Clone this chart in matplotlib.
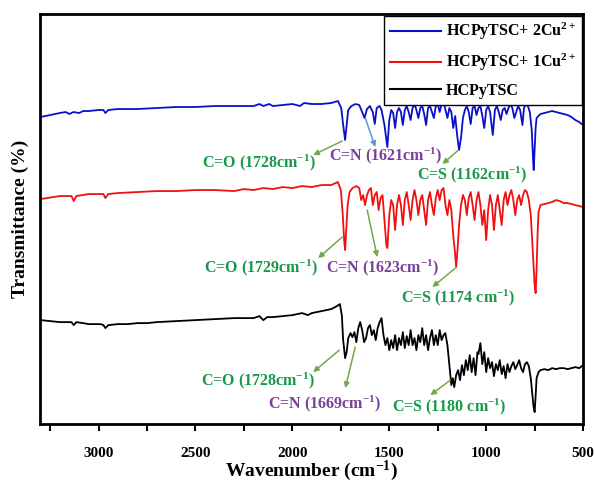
import matplotlib.pyplot as plt
from matplotlib.ticker import MultipleLocator

plt.rcParams['font.family'] = ['Liberation Serif', 'DejaVu Serif']
plt.rcParams['font.weight'] = 'bold'
plt.rcParams['mathtext.fontset'] = 'custom'
plt.rcParams['mathtext.rm'] = 'Liberation Serif:bold'
plt.rcParams['mathtext.bf'] = 'Liberation Serif:bold'
plt.rcParams['mathtext.default'] = 'bf'

# wavenumber (cm-1) and transmittance (arbitrary offset units)
wn_2cu = [3300, 3250, 3200, 3170, 3150, 3130, 3100, 3080, 3050, 3000, 2975, 2965, 2950, 2900, 2850,
          2800, 2700, 2600, 2500, 2400, 2300, 2200, 2170, 2150, 2120, 2100, 2050, 2000, 1960, 1940,
          1900, 1850, 1800, 1765, 1748, 1738, 1728, 1720, 1712, 1695, 1675, 1655, 1640, 1628, 1615,
          1600, 1585, 1575, 1565, 1550, 1540, 1525, 1510, 1500, 1490, 1480, 1470, 1460, 1450, 1440,
          1430, 1420, 1410, 1400, 1390, 1380, 1370, 1360, 1350, 1340, 1330, 1320, 1310, 1300, 1290,
          1280, 1270, 1260, 1250, 1240, 1230, 1220, 1210, 1200, 1190, 1180, 1170, 1160, 1150, 1140,
          1130, 1120, 1110, 1100, 1090, 1080, 1070, 1060, 1050, 1040, 1030, 1020, 1010, 1000, 990,
          980, 966, 955, 945, 935, 925, 915, 905, 895, 885, 875, 865, 855, 845, 835,
          825, 813, 805, 795, 785, 775, 765, 758, 755, 750, 745, 740, 720, 700, 680,
          660, 640, 620, 600, 580, 560, 540, 520, 500]
t_2cu = [307, 309, 311, 312, 310, 312, 311, 313, 313, 314, 314, 311, 314, 315, 315,
         315, 316, 317, 317, 318, 318, 318, 320, 318, 320, 318, 319, 320, 318, 321,
         320, 320, 321, 323, 316, 299, 284, 299, 314, 318, 320, 319, 312, 306, 315,
         318, 312, 300, 316, 318, 314, 299, 277, 304, 314, 311, 296, 312, 316, 312,
         299, 314, 318, 312, 304, 316, 320, 314, 306, 316, 318, 310, 299, 316, 318,
         312, 306, 318, 320, 312, 320, 322, 314, 306, 316, 312, 296, 308, 289, 274,
         286, 306, 314, 318, 312, 300, 316, 318, 309, 316, 318, 308, 296, 314, 318,
         312, 289, 314, 318, 312, 304, 314, 316, 310, 316, 320, 316, 306, 312, 318,
         314, 299, 316, 320, 318, 312, 294, 264, 254, 274, 296, 306, 310, 311, 312,
         313, 312, 311, 310, 309, 307, 304, 302, 299]

wn_1cu = [3300, 3200, 3140, 3128, 3115, 3050, 2975, 2965, 2950, 2900, 2800, 2700, 2600, 2500, 2400,
          2300, 2250, 2200, 2150, 2100, 2050, 2000, 1950, 1900, 1850, 1800, 1765, 1750, 1740, 1733,
          1728, 1722, 1715, 1705, 1690, 1670, 1655, 1645, 1635, 1625, 1615, 1605, 1595, 1585, 1575,
          1565, 1555, 1545, 1535, 1525, 1515, 1510, 1500, 1490, 1480, 1470, 1460, 1450, 1440, 1430,
          1420, 1410, 1400, 1390, 1380, 1370, 1360, 1350, 1340, 1330, 1320, 1310, 1300, 1290, 1280,
          1270, 1260, 1250, 1240, 1230, 1220, 1210, 1200, 1190, 1180, 1170, 1160, 1155, 1148, 1140,
          1130, 1120, 1110, 1100, 1090, 1080, 1070, 1060, 1050, 1040, 1030, 1020, 1010, 1000, 990,
          980, 970, 960, 950, 940, 930, 920, 910, 900, 890, 880, 870, 860, 850, 840,
          830, 820, 810, 800, 790, 780, 770, 760, 750, 745, 740, 735, 730, 720, 700,
          680, 660, 640, 620, 600, 580, 560, 540, 520, 500]
t_1cu = [225, 228, 228, 223, 228, 230, 230, 226, 230, 231, 232, 233, 233, 234, 234,
         233, 235, 234, 236, 235, 237, 236, 238, 237, 239, 239, 242, 234, 209, 184,
         174, 194, 219, 232, 236, 238, 236, 224, 229, 219, 229, 234, 236, 219, 229,
         232, 214, 226, 229, 204, 179, 176, 209, 224, 219, 194, 219, 229, 219, 199,
         224, 232, 219, 204, 224, 234, 224, 209, 224, 229, 214, 199, 224, 232, 219,
         209, 226, 234, 224, 234, 236, 219, 209, 224, 214, 189, 169, 157, 174, 199,
         219, 229, 224, 209, 226, 232, 219, 204, 224, 232, 219, 199, 214, 184, 214,
         229, 219, 194, 219, 229, 214, 199, 224, 232, 219, 229, 234, 224, 209, 224,
         229, 219, 229, 234, 232, 224, 209, 174, 139, 131, 154, 189, 212, 219, 220,
         221, 222, 224, 223, 221, 221, 220, 219, 218, 217]

wn_free = [3300, 3250, 3200, 3140, 3128, 3115, 3080, 3050, 2990, 2975, 2965, 2950, 2900, 2850, 2800,
           2750, 2700, 2600, 2500, 2400, 2300, 2200, 2170, 2150, 2130, 2100, 2050, 2000, 1950, 1920,
           1900, 1850, 1800, 1770, 1755, 1745, 1738, 1728, 1720, 1712, 1700, 1690, 1680, 1670, 1660,
           1650, 1640, 1630, 1620, 1610, 1600, 1590, 1580, 1570, 1560, 1550, 1540, 1530, 1520, 1510,
           1500, 1490, 1480, 1470, 1460, 1450, 1440, 1430, 1420, 1410, 1400, 1390, 1380, 1370, 1360,
           1350, 1340, 1330, 1320, 1310, 1300, 1290, 1280, 1270, 1260, 1250, 1240, 1230, 1220, 1211,
           1200, 1190, 1180, 1172, 1165, 1155, 1145, 1135, 1125, 1115, 1105, 1095, 1085, 1075, 1065,
           1055, 1045, 1040, 1030, 1020, 1010, 1000, 990, 980, 970, 960, 950, 940, 930, 920,
           910, 900, 890, 880, 870, 860, 850, 840, 830, 820, 810, 800, 790, 780, 770,
           762, 756, 750, 745, 740, 730, 720, 700, 680, 660, 640, 620, 600, 580, 560,
           540, 520, 500]
t_free = [104, 103, 102, 102, 99, 102, 101, 100, 100, 99, 96, 99, 100, 100, 101,
          101, 102, 103, 104, 105, 106, 106, 108, 104, 107, 107, 108, 109, 111, 109,
          111, 113, 115, 118, 120, 109, 84, 66, 72, 86, 91, 87, 92, 82, 96,
          102, 94, 82, 86, 96, 99, 89, 94, 84, 96, 102, 106, 89, 79, 86,
          74, 84, 76, 89, 74, 86, 79, 92, 76, 88, 79, 94, 79, 86, 74,
          89, 82, 96, 79, 89, 74, 86, 94, 79, 89, 79, 94, 84, 89, 91,
          79, 59, 39, 46, 37, 49, 54, 44, 59, 49, 64, 54, 69, 52, 66,
          49, 72, 70, 81, 60, 72, 52, 66, 56, 62, 48, 60, 54, 64, 50,
          58, 46, 60, 52, 58, 62, 55, 59, 64, 56, 52, 60, 62, 58, 46,
          30, 18, 12, 28, 46, 52, 54, 55, 54, 56, 55, 56, 56, 55, 56,
          57, 56, 59]

series_labels = [r'HCPyTSC+ 2Cu$^{2+}$', r'HCPyTSC+ 1Cu$^{2+}$', 'HCPyTSC']
series_colors = ['#0a10c8', '#f01010', '#000000']

green = '#17984a'
purple = '#7a3f9a'
arrow_green = '#74a84a'
arrow_blue = '#5a9ad8'

# (text, text x, text y, colour, arrow tail, arrow head, arrow colour)
notes = [
    ('C=O (1728cm$^{-1}$)', 2172, 261, green, (1743, 283), (1893, 269), arrow_green),
    ('C=N (1621cm$^{-1}$)', 1521, 268, purple, (1624, 306), (1572, 277), arrow_blue),
    ('C=S (1162cm$^{-1}$)', 1074, 249, green, (1143, 274), (1226, 260), arrow_green),
    ('C=O (1729cm$^{-1}$)', 2161, 156, green, (1743, 187), (1867, 166), arrow_green),
    ('C=N (1623cm$^{-1}$)', 1533, 156, purple, (1614, 214), (1562, 167), arrow_green),
    ('C=S (1174 cm$^{-1}$)', 1146, 126, green, (1159, 156), (1278, 137), arrow_green),
    ('C=O (1728cm$^{-1}$)', 2179, 43, green, (1758, 74), (1893, 52), arrow_green),
    ('C=N (1669cm$^{-1}$)', 1836, 20, purple, (1676, 77), (1727, 36), arrow_green),
    ('C=S (1180 cm$^{-1}$)', 1190, 17, green, (1185, 44), (1288, 29), arrow_green),
]

fig = plt.figure(figsize=(5.95, 4.82), dpi=100)
ax = fig.add_axes([0.067, 0.12, 0.913, 0.851])

ax.plot(wn_2cu, t_2cu, color=series_colors[0], lw=1.3, label=series_labels[0])
ax.plot(wn_1cu, t_1cu, color=series_colors[1], lw=1.3, label=series_labels[1])
ax.plot(wn_free, t_free, color=series_colors[2], lw=1.3, label=series_labels[2])

for text, tx, ty, col, tail, head, acol in notes:
    ax.annotate('', xy=head, xytext=tail,
                arrowprops=dict(arrowstyle='-|>', color=acol, lw=1.1, mutation_scale=8,
                                shrinkA=0, shrinkB=0))
    ax.text(tx, ty, text, color=col, fontsize=11.5, fontweight='bold',
            ha='center', va='center')

ax.set_xlim(3303, 500)
ax.set_ylim(0, 410)
ax.set_yticks([])
ax.xaxis.set_major_locator(MultipleLocator(500))
ax.xaxis.set_minor_locator(MultipleLocator(250))
ax.tick_params(axis='x', which='major', direction='out', length=5, width=1.5,
               labelsize=11, pad=11.5)
ax.tick_params(axis='x', which='minor', direction='out', length=5, width=1.5)
for lab in ax.get_xticklabels():
    lab.set_fontweight('bold')
for sp in ax.spines.values():
    sp.set_linewidth(2)

ax.set_xlabel('Wavenumber (cm$^{-1}$)', fontsize=14, fontweight='bold', labelpad=-1)
ax.set_ylabel('Transmittance (%)', fontsize=14, fontweight='bold', labelpad=8)

leg = ax.legend(loc='upper right', fontsize=11.5, frameon=True, fancybox=False,
                edgecolor='black', framealpha=1, borderaxespad=0.1,
                handlelength=3.2, handletextpad=0.3, labelspacing=0.6,
                borderpad=0.35)
leg.get_frame().set_linewidth(1.0)
for txt in leg.get_texts():
    txt.set_fontweight('bold')
for line in leg.get_lines():
    line.set_linewidth(1.5)

fig.savefig('out.png', dpi=100)
